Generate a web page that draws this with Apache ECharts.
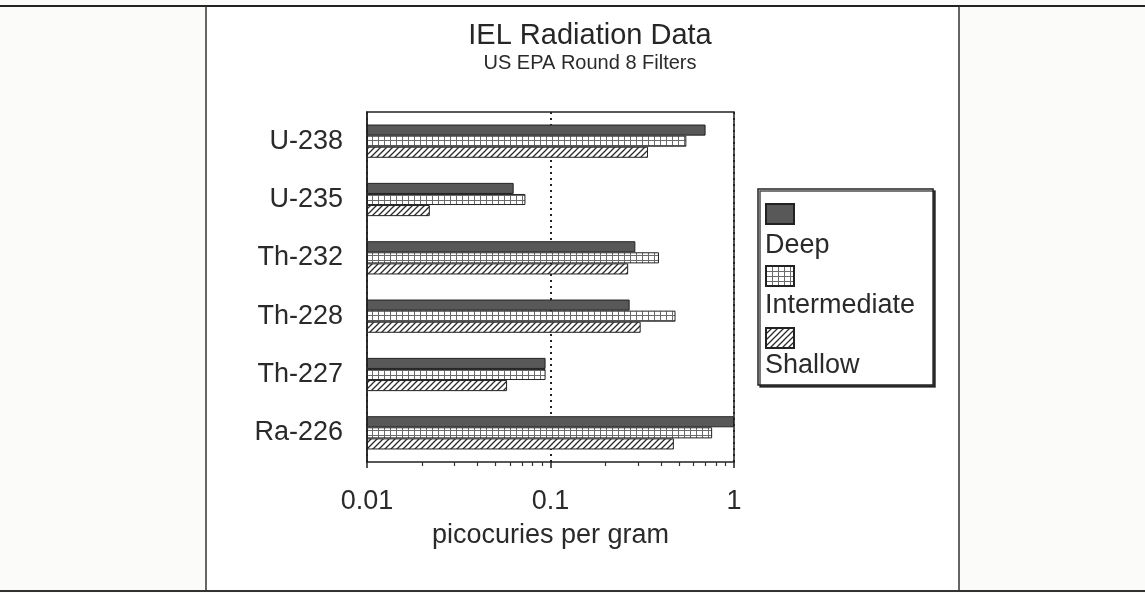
<!DOCTYPE html>
<html>
<head>
<meta charset="utf-8">
<script src="https://cdn.jsdelivr.net/npm/echarts@6/dist/echarts.min.js"></script>
<style>
  html, body { margin: 0; padding: 0; background: #fbfbf9; }
  #chart { width: 1145px; height: 593px; }
</style>
</head>
<body>
<div id="chart"></div>
<script>
// isotopes, top to bottom
const isotopes = ['U-238', 'U-235', 'Th-232', 'Th-228', 'Th-227', 'Ra-226'];
// picocuries per gram
const deep = [0.70, 0.063, 0.29, 0.27, 0.094, 1.0];
const intermediate = [0.55, 0.073, 0.39, 0.48, 0.094, 0.76];
const shallow = [0.34, 0.022, 0.265, 0.31, 0.058, 0.47];
const majorTicks = [0.01, 0.1, 1];
const minorTicks = [0.02, 0.03, 0.04, 0.05, 0.06, 0.07, 0.08, 0.09,
                    0.2, 0.3, 0.4, 0.5, 0.6, 0.7, 0.8, 0.9];

const font = 'Liberation Sans, Arial, sans-serif';

// small canvas fills for the grid and hatch bars
function gridPattern() {
    let c = document.createElement('canvas');
    c.width = 6; c.height = 5;
    let g = c.getContext('2d');
    g.fillStyle = '#fff';
    g.fillRect(0, 0, 6, 5);
    g.fillStyle = '#6a6a6a';
    g.fillRect(0, 0, 1, 5);
    g.fillRect(0, 0, 6, 1);
    return { image: c, repeat: 'repeat' };
}
function hatchPattern() {
    let c = document.createElement('canvas');
    c.width = 6; c.height = 6;
    let g = c.getContext('2d');
    g.fillStyle = '#fff';
    g.fillRect(0, 0, 6, 6);
    g.strokeStyle = '#2a2a2a';
    g.lineWidth = 1.3;
    g.beginPath();
    g.moveTo(-1, 7); g.lineTo(7, -1);
    g.moveTo(-1, 1); g.lineTo(1, -1);
    g.moveTo(5, 7); g.lineTo(7, 5);
    g.stroke();
    return { image: c, repeat: 'repeat' };
}

let chart = echarts.init(document.getElementById('chart'));

let option = {
    backgroundColor: '#fbfbf9',
    animation: false,
    title: {
        text: 'IEL Radiation Data',
        subtext: 'US EPA Round 8 Filters',
        left: 585,
        top: 16,
        textAlign: 'center',
        itemGap: 3,
        textStyle: { fontFamily: font, fontSize: 29, fontWeight: 'normal', color: '#262626' },
        subtextStyle: { fontFamily: font, fontSize: 20, color: '#2a2a2a' }
    },
    legend: [
        // text part, its box is the legend frame
        {
            orient: 'vertical',
            left: 758,
            top: 189,
            padding: [42, 18, 4, 2],
            itemGap: 30,
            itemWidth: 0,
            itemHeight: 20,
            icon: 'none',
            selectedMode: false,
            backgroundColor: '#fff',
            borderColor: '#222',
            borderWidth: 1.5,
            borderRadius: 0,
            shadowColor: 'rgba(0,0,0,0.7)',
            shadowOffsetX: 2,
            shadowOffsetY: 2,
            textStyle: { fontFamily: font, fontSize: 27, color: '#2a2a2a', lineHeight: 30 },
            data: ['Deep', 'Intermediate', 'Shallow']
        },
        // icon part
        {
            orient: 'vertical',
            left: 765,
            top: 203,
            padding: 0,
            itemGap: 40,
            itemWidth: 28,
            itemHeight: 20,
            icon: 'rect',
            selectedMode: false,
            formatter: () => '',
            data: ['Deep', 'Intermediate', 'Shallow']
        }
    ],
    graphic: [
        { type: 'line', shape: { x1: 0, y1: 6, x2: 1145, y2: 6 }, style: { stroke: '#222', lineWidth: 2 } },
        { type: 'line', shape: { x1: 0, y1: 591, x2: 1145, y2: 591 }, style: { stroke: '#333', lineWidth: 2 } },
        { type: 'line', shape: { x1: 206, y1: 6, x2: 206, y2: 591 }, style: { stroke: '#333', lineWidth: 1.5 } },
        { type: 'line', shape: { x1: 959, y1: 6, x2: 959, y2: 591 }, style: { stroke: '#333', lineWidth: 1.5 } },
        { type: 'rect', shape: { x: 207, y: 7, width: 751, height: 583 }, style: { fill: '#fff' }, z: -1 }
    ],
    grid: {
        left: 367,
        right: 411,
        top: 112,
        bottom: 131,
        show: true,
        borderColor: '#222',
        borderWidth: 1.5
    },
    xAxis: [
        {
            type: 'log',
            logBase: 10,
            min: 0.01,
            max: 1,
            startValue: 0.01,
            name: 'picocuries per gram',
            nameLocation: 'middle',
            nameGap: 60,
            nameTextStyle: { fontFamily: font, fontSize: 27, color: '#2a2a2a' },
            axisLine: { lineStyle: { color: '#222', width: 1.5 } },
            axisTick: { show: true, length: 6, lineStyle: { color: '#222', width: 1.5 } },
            axisLabel: {
                fontFamily: font, fontSize: 27, color: '#2a2a2a', margin: 26,
                customValues: majorTicks,
                formatter: v => String(v)
            },
            splitLine: { show: true, lineStyle: { color: '#222', type: [2, 4], width: 2 } }
        },
        {
            type: 'log',
            logBase: 10,
            min: 0.01,
            max: 1,
            position: 'bottom',
            axisLine: { show: false },
            axisTick: { show: true, length: 4, customValues: minorTicks, lineStyle: { color: '#333', width: 1.2 } },
            axisLabel: { show: false },
            splitLine: { show: false }
        }
    ],
    yAxis: {
        type: 'category',
        inverse: true,
        data: isotopes,
        axisLine: { lineStyle: { color: '#222', width: 1.5 } },
        axisTick: { length: 5, lineStyle: { color: '#222', width: 1.5 } },
        axisLabel: { fontFamily: font, fontSize: 27, color: '#2a2a2a', margin: 24 }
    },
    series: [
        {
            name: 'Deep',
            type: 'bar',
            data: deep,
            barGap: '0%',
            barCategoryGap: '43%',
            itemStyle: { color: '#585858', borderColor: '#222', borderWidth: 1 }
        },
        {
            name: 'Intermediate',
            type: 'bar',
            data: intermediate,
            itemStyle: { color: gridPattern(), borderColor: '#222', borderWidth: 1 }
        },
        {
            name: 'Shallow',
            type: 'bar',
            data: shallow,
            itemStyle: { color: hatchPattern(), borderColor: '#222', borderWidth: 1 }
        }
    ]
};

chart.setOption(option);
</script>
</body>
</html>
